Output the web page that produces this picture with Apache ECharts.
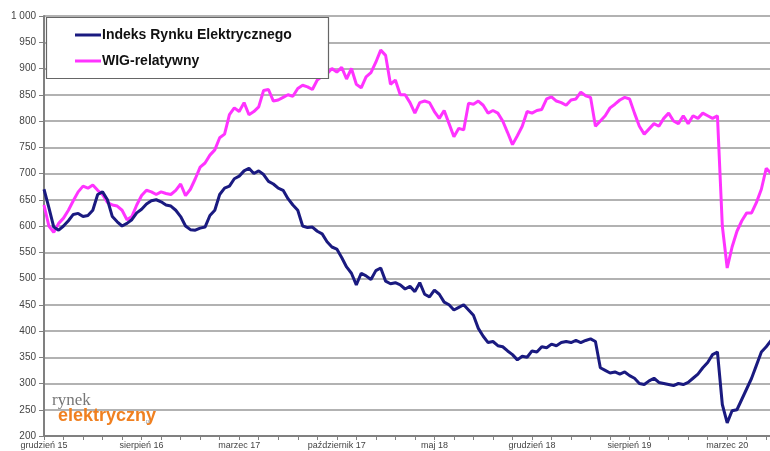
<!DOCTYPE html>
<html>
<head>
<meta charset="utf-8">
<script src="https://cdn.jsdelivr.net/npm/echarts@6/dist/echarts.min.js"></script>
<style>
  html, body { margin: 0; padding: 0; background: #fff; overflow: hidden; }
  #main { width: 780px; height: 451px; }
</style>
</head>
<body>
<div id="main"></div>
<script>
// etykiety osi X (co 20 punktow)
var xLabels = ['grudzień 15', 'sierpień 16', 'marzec 17', 'październik 17', 'maj 18', 'grudzień 18', 'sierpień 19', 'marzec 20'];

// Indeks Rynku Elektrycznego
var ire = [670, 635, 598, 592, 600, 610, 622, 624, 618, 620,
    630, 660, 665, 650, 618, 608, 600, 605, 612, 625,
    632, 642, 648, 650, 646, 640, 638, 630, 618, 600,
    593, 592, 596, 598, 620, 630, 660, 672, 676, 690,
    695, 705, 710, 700, 705, 698, 685, 680, 672, 668,
    652, 640, 630, 600, 597, 598, 590, 585, 570, 560,
    556, 540, 522, 510, 488, 510, 505, 498, 515, 520,
    495, 490, 492, 488, 480, 485, 475, 492, 470, 465,
    478, 470, 455, 450, 440, 445, 450, 440, 430, 405,
    390, 378, 380, 372, 370, 362, 355, 345, 352, 350,
    362, 360, 370, 368, 375, 372, 378, 380, 378, 382,
    378, 382, 385, 380, 330, 325, 320, 322, 318, 322,
    315, 310, 300, 298, 305, 310, 302, 300, 298, 296,
    300, 298, 302, 310, 318, 330, 340, 355, 360, 260,
    225, 248, 250, 270, 290, 310, 335, 360, 370, 382,
    385];

// WIG-relatywny
var wig = [640, 600, 588, 605, 615, 630, 648, 665, 676, 672,
    678, 668, 660, 645, 640, 638, 630, 612, 618, 640,
    658, 668, 665, 660, 665, 662, 660, 668, 680, 658,
    670, 690, 712, 720, 735, 745, 768, 775, 812, 825,
    818, 835, 812, 818, 827, 858, 860, 838, 840, 845,
    850, 847, 862, 868, 865, 860, 878, 885, 890, 900,
    893, 902, 880, 900, 870, 863, 884, 892, 912, 935,
    925, 870, 878, 850, 850, 835, 815, 835, 838, 835,
    818, 805, 820, 795, 770, 786, 783, 834, 832, 838,
    830, 815, 820, 815, 800, 778, 755, 772, 790, 818,
    815, 820, 822, 842, 846, 838, 835, 830, 840, 842,
    855, 848, 845, 790, 800, 810, 825, 832, 840, 845,
    842, 815, 790, 775, 785, 795, 790, 805, 815, 800,
    795, 810, 795, 810, 805, 815, 810, 805, 810, 600,
    520, 560, 590, 610, 625, 625, 645, 670, 710, 700,
    695];

var cats = ire.map(function (v, i) { return String(i); });

var chartDom = document.getElementById('main');
var myChart = echarts.init(chartDom);
var option;

option = {
    animation: false,
    textStyle: { fontFamily: 'Liberation Sans, Arial, sans-serif' },
    grid: {
        left: 44,
        top: 16,
        width: 732,
        bottom: 15
    },
    legend: {
        orient: 'vertical',
        left: 70,
        top: 23,
        itemGap: 12,
        itemWidth: 26,
        itemHeight: 3,
        icon: 'rect',
        z: 10,
        textStyle: { fontSize: 14, fontWeight: 'bold', color: '#111', padding: [0, 0, 0, -4] },
        data: ['Indeks Rynku Elektrycznego', 'WIG-relatywny']
    },
    graphic: [
        {
            type: 'rect', z: 8,
            shape: { x: 46.5, y: 17.5, width: 282, height: 61 },
            style: { fill: '#fff', stroke: '#666', lineWidth: 1.2 }
        },
        {
            type: 'text', z: 8, left: 52, top: 392,
            style: { text: 'rynek', fill: '#777', font: '17px "Liberation Serif", serif' }
        },
        {
            type: 'text', z: 8, left: 58, top: 407,
            style: { text: 'elektryczny', fill: '#f08020', font: 'bold 18px "Liberation Sans Narrow", "Liberation Sans", sans-serif' }
        },
        {
            type: 'text', z: 8, left: 144, top: 418,
            style: { text: '.pl', fill: '#999', font: '6px sans-serif' }
        }
    ],
    xAxis: {
        type: 'category',
        boundaryGap: false,
        data: cats,
        axisLine: { lineStyle: { color: '#808080', width: 2 } },
        axisTick: { interval: 3, length: 4, lineStyle: { color: '#808080' } },
        axisLabel: {
            interval: 19,
            fontSize: 9,
            color: '#444',
            margin: 5,
            formatter: function (v, i) { return xLabels[i / 20] || ''; }
        },
        splitLine: { show: false }
    },
    yAxis: {
        type: 'value',
        min: 200,
        max: 1000,
        interval: 50,
        axisLine: { show: true, lineStyle: { color: '#808080', width: 2 } },
        axisTick: { show: true, length: 5, lineStyle: { color: '#808080' } },
        axisLabel: {
            fontSize: 10,
            color: '#444',
            margin: 8,
            formatter: function (v) { return v === 1000 ? '1 000' : String(v); }
        },
        splitLine: { lineStyle: { color: '#999', width: 1.5 } }
    },
    series: [
        {
            name: 'Indeks Rynku Elektrycznego',
            type: 'line',
            data: ire,
            showSymbol: false,
            z: 3,
            itemStyle: { color: '#1a1a80' },
            lineStyle: { color: '#1a1a80', width: 3 }
        },
        {
            name: 'WIG-relatywny',
            type: 'line',
            data: wig,
            showSymbol: false,
            z: 2,
            itemStyle: { color: '#ff33ff' },
            lineStyle: { color: '#ff33ff', width: 3 }
        }
    ]
};

option && myChart.setOption(option);
</script>
</body>
</html>
